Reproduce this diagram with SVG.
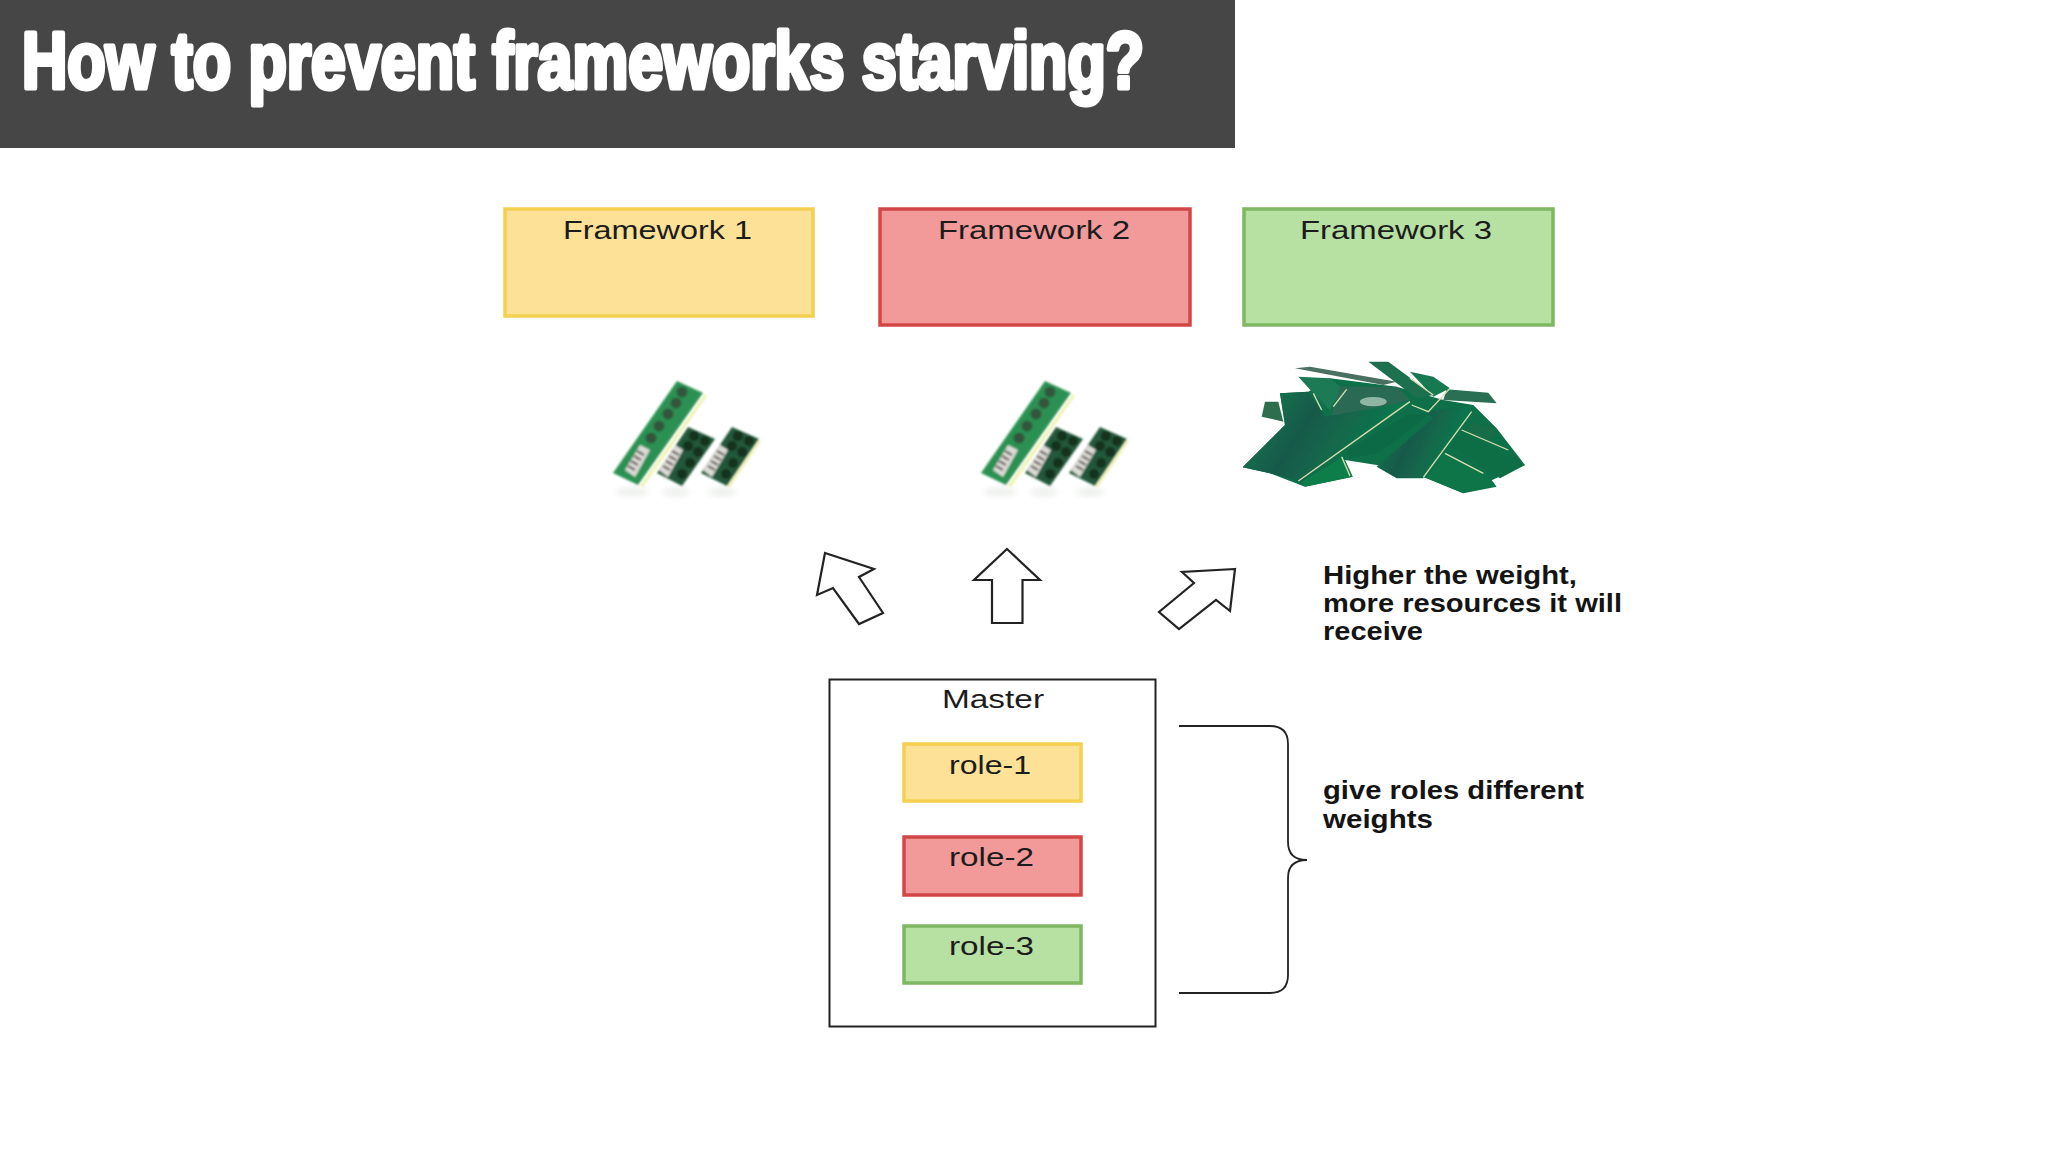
<svg xmlns="http://www.w3.org/2000/svg" xmlns:xlink="http://www.w3.org/1999/xlink" width="2048" height="1152" viewBox="0 0 2048 1152">
<style>
text{font-family:"Liberation Sans",Arial,sans-serif;fill:#1c1c1c}
.lbl{font-size:26px}
.note{font-size:25px;font-weight:bold;fill:#141414}
.title{font-size:79px;font-weight:bold;fill:#fff;stroke:#fff;stroke-width:5px;stroke-linejoin:round}
.y{fill:#fde196;stroke:#f5d04f;stroke-width:3.5px}
.r{fill:#f29a9a;stroke:#d24646;stroke-width:3.5px}
.g{fill:#b7e0a3;stroke:#7fb763;stroke-width:3.5px}
.arrow{fill:#fff;stroke:#222;stroke-width:2.2px;stroke-linejoin:miter}
.brace{fill:none;stroke:#222;stroke-width:1.8px}
.chipd{fill:#14301c}
.chip{fill:#33573a}
.tag{fill:#dcdcd6}
.mark{fill:none;stroke:#6a5a5e;stroke-width:2.2px}
.gold{fill:none;stroke:#d8dfb0;stroke-width:4}
</style>
<defs>
<filter id="soft" x="-10%" y="-10%" width="120%" height="120%"><feGaussianBlur stdDeviation="0.8"/></filter>
<filter id="soft3" x="-30%" y="-30%" width="160%" height="160%"><feGaussianBlur stdDeviation="3"/></filter>
<g id="ram">
<ellipse cx="632" cy="492" rx="16" ry="4" fill="#eaeeea" filter="url(#soft3)"/>
<ellipse cx="676" cy="492" rx="14" ry="4" fill="#eaeeea" filter="url(#soft3)"/>
<ellipse cx="722" cy="492" rx="14" ry="4" fill="#eaeeea" filter="url(#soft3)"/>
<g filter="url(#soft)">
<polygon points="705,394 640,486 643,487 707,396" fill="#eef2b0"/>
<polygon points="677,381 703,393 638,485 613,473" fill="#2c9152"/>
<g class="chip"><circle cx="682" cy="392" r="5.5"/><circle cx="676" cy="403" r="5.5"/><circle cx="668" cy="414" r="5.5"/><circle cx="659" cy="426" r="5.5"/><circle cx="651" cy="438" r="5.5"/></g>
<polygon class="tag" points="640,445 650,450 635,477 625,470"/>
<path class="mark" d="M637,451l7,4M634,456l7,4M631,461l7,4M628,466l7,4"/>
<polygon points="688,427 715,439 682,486 657,473" fill="#24593a"/>
<g class="chipd"><circle cx="694" cy="436" r="5"/><circle cx="705" cy="441" r="5"/><circle cx="688" cy="446" r="5"/><circle cx="698" cy="452" r="5"/><circle cx="690" cy="463" r="5"/><circle cx="682" cy="474" r="5"/></g>
<polygon class="tag" points="675,445 683,450 668,477 659,470"/>
<path class="mark" d="M672,451l7,4M669,456l7,4M666,461l7,4M663,466l7,4"/>
<polygon points="759,440 727,487 730,487 761,441" fill="#eef2b0"/>
<polygon points="732,427 759,439 727,486 701,473" fill="#24593a"/>
<g class="chipd"><circle cx="738" cy="436" r="5"/><circle cx="749" cy="441" r="5"/><circle cx="732" cy="446" r="5"/><circle cx="742" cy="452" r="5"/><circle cx="733" cy="463" r="5"/><circle cx="726" cy="474" r="5"/></g>
<polygon class="tag" points="720,445 728,450 712,477 703,470"/>
<path class="mark" d="M717,451l7,4M714,456l7,4M711,461l7,4M708,466l7,4"/>
</g>
</g>
<linearGradient id="board" x1="0" y1="0" x2="1" y2="0.35"><stop offset="0" stop-color="#0f8350"/><stop offset=".45" stop-color="#14594a"/><stop offset="1" stop-color="#0f7f4e"/></linearGradient>
</defs>
<rect width="2048" height="1152" fill="#fff"/>
<g id="title">
<rect width="1235" height="148" fill="#464646"/>
<text class="title" x="22" y="87.5" textLength="1122" lengthAdjust="spacingAndGlyphs">How to prevent frameworks starving?</text>
</g>
<g id="framework-1"><rect class="y" x="505" y="209" width="308" height="107"/><text class="lbl" x="563" y="239" textLength="189" lengthAdjust="spacingAndGlyphs">Framework 1</text></g>
<g id="framework-2"><rect class="r" x="880" y="209" width="310" height="116"/><text class="lbl" x="938" y="239" textLength="192" lengthAdjust="spacingAndGlyphs">Framework 2</text></g>
<g id="framework-3"><rect class="g" x="1244" y="209" width="309" height="116"/><text class="lbl" x="1300" y="239" textLength="192" lengthAdjust="spacingAndGlyphs">Framework 3</text></g>
<g id="ram-1"><use xlink:href="#ram" href="#ram"/></g>
<g id="ram-2"><use xlink:href="#ram" href="#ram" x="368"/></g>
<g id="ram-pile" transform="translate(1230 350) scale(.3333)" filter="url(#soft)">
<polygon points="150,130 235,125 300,85 500,110 640,150 730,165 800,235 885,345 700,430 590,385 440,345 345,330 368,380 225,410 120,370 38,352 165,225" fill="#0f6f48"/>
<polygon points="195,55 240,50 500,95 460,105" fill="#4a6f60"/>
<polygon points="415,35 475,35 610,135 560,145" fill="#1f6f4d"/>
<polygon points="540,65 610,80 660,115 610,140" fill="#17794f"/>
<polygon points="650,118 775,128 800,160 640,150" fill="#2a6e52"/>
<polygon points="105,155 145,155 160,215 95,200" fill="#2f6e50"/>
<polygon points="205,80 300,85 335,115 300,180 250,130" fill="#1f7a55"/>
<polygon points="330,110 500,110 540,150 300,210" fill="#2b6a55"/>
<ellipse cx="430" cy="155" rx="40" ry="14" fill="#8fb5a5"/>
<polygon points="350,300 530,195 600,190 500,270 440,310 360,325" fill="#116b46"/>
<polygon points="680,280 720,215 800,235 790,265" fill="#126d47"/>
<polygon points="660,285 700,240 885,345 810,385" fill="#0d6e45"/>
<polygon points="590,385 640,310 770,370 800,410 700,430" fill="#0c7447"/>
<polygon points="215,395 340,320 368,380 225,410" fill="#0e7d4a"/>
<polygon points="38,352 165,225 150,130 235,125 285,200 535,155 215,395 120,370" fill="url(#board)"/>
<polygon points="440,350 610,205 590,185 730,165 580,385 500,385" fill="url(#board)"/>
<g class="gold">
<path d="M205,393L540,155"/><path d="M580,382L725,185"/><path d="M545,165L595,185L660,115"/><path d="M250,130L275,180"/><path d="M310,170L350,118"/><path d="M645,310L760,370"/><path d="M695,240L835,300"/><path d="M335,320L360,378"/><path d="M540,85L610,135"/>
</g>
</g>
<g id="connectors">
<polygon class="arrow" points="825,553 874,569 859,577 883,613 859,624 833,588 817,595"/>
<polygon class="arrow" points="1007,549 1040,580 1022.5,580 1022.5,623 992,623 992,580 974,580"/>
<polygon class="arrow" points="1235,569 1182,572 1194,583 1159,612 1179,629 1216,600 1230,611"/>
<path class="brace" d="M1179,726H1270Q1288,726 1288,744V842Q1288,860 1307,860Q1288,860 1288,878V975Q1288,993 1270,993H1179"/>
</g>
<g id="master">
<rect x="829.5" y="679.5" width="326" height="347" fill="#fff" stroke="#222" stroke-width="2"/>
<text class="lbl" x="942" y="708" textLength="102" lengthAdjust="spacingAndGlyphs">Master</text>
</g>
<g id="role-1"><rect class="y" x="904" y="744" width="177" height="57"/><text class="lbl" x="949" y="774" textLength="82" lengthAdjust="spacingAndGlyphs">role-1</text></g>
<g id="role-2"><rect class="r" x="904" y="837" width="177" height="58"/><text class="lbl" x="949" y="866" textLength="85" lengthAdjust="spacingAndGlyphs">role-2</text></g>
<g id="role-3"><rect class="g" x="904" y="926" width="177" height="57"/><text class="lbl" x="949" y="955" textLength="85" lengthAdjust="spacingAndGlyphs">role-3</text></g>
<g id="note-weight">
<text class="note" x="1323" y="583.5" textLength="254" lengthAdjust="spacingAndGlyphs">Higher the weight,</text>
<text class="note" x="1323" y="612" textLength="299" lengthAdjust="spacingAndGlyphs">more resources it will</text>
<text class="note" x="1323" y="640" textLength="100" lengthAdjust="spacingAndGlyphs">receive</text>
</g>
<g id="note-roles">
<text class="note" x="1323" y="799" textLength="261" lengthAdjust="spacingAndGlyphs">give roles different</text>
<text class="note" x="1323" y="828" textLength="110" lengthAdjust="spacingAndGlyphs">weights</text>
</g>
</svg>
